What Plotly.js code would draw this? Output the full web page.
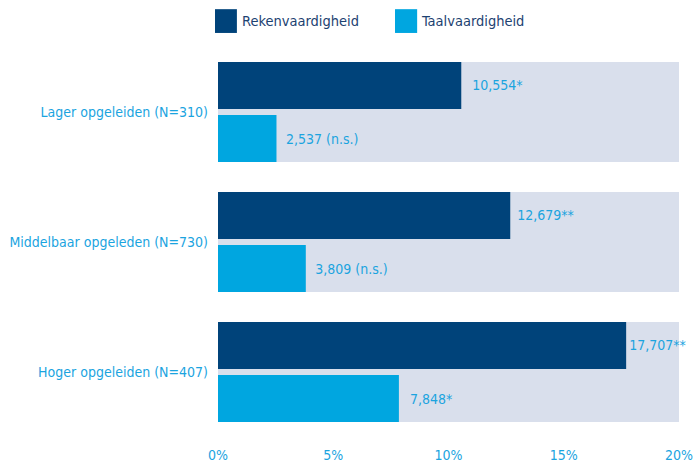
<!DOCTYPE html>
<html>
<head>
<meta charset="utf-8">
<script src="https://cdn.plot.ly/plotly-3.0.1.min.js"></script>
<style>html,body{margin:0;padding:0;background:#fff;}#chart{width:693px;height:464px;}</style>
</head>
<body>
<div id="chart"></div>
<script>
const categories = ["Lager opgeleiden (N=310)", "Middelbaar opgeleden (N=730)", "Hoger opgeleiden (N=407)"];
const rekenValues = [10.554, 12.679, 17.707];
const taalValues = [2.537, 3.809, 7.848];
const rekenLabels = ["10,554*", "12,679**", "17,707**"];
const taalLabels = ["2,537 (n.s.)", "3,809 (n.s.)", "7,848*"];
const bandValues = [20, 20, 20];
const xTickVals = [0, 5, 10, 15, 20];
const xTickText = ["0%", "5%", "10%", "15%", "20%"];
const seriesNames = ["Rekenvaardigheid", "Taalvaardigheid"];

// label spacing (style only)
const rekenPad = ['\u00a0\u00a0', '\u00a0', ''];
const taalPad = ['\u00a0\u2009', '\u00a0\u2009', '\u00a0\u00a0'];

const FONT = '"DejaVu Sans Condensed", "Liberation Sans Narrow", "Roboto", sans-serif';
const DARK = '#00437a';
const LIGHT = '#00a6e0';
const BAND = '#d9dfec';
const TXT = '#1ba4df';
const NAVY = '#1d4271';
const FS = 14;

const traces = [
  {type: 'bar', orientation: 'h', y: categories, x: bandValues, width: 0.77, offset: -0.385,
   marker: {color: BAND}, hoverinfo: 'skip', showlegend: false},
  {type: 'bar', orientation: 'h', name: seriesNames[0], y: categories, x: rekenValues, width: 0.362, offset: -0.385,
   marker: {color: DARK}, text: rekenLabels.map((t, i) => rekenPad[i] + t), textposition: 'outside', constraintext: 'none',
   cliponaxis: false, textfont: {family: FONT, size: FS, color: TXT}, hoverinfo: 'skip', showlegend: false},
  {type: 'bar', orientation: 'h', name: seriesNames[1], y: categories, x: taalValues, width: 0.362, offset: 0.023,
   marker: {color: LIGHT}, text: taalLabels.map((t, i) => taalPad[i] + t), textposition: 'outside', constraintext: 'none',
   cliponaxis: false, textfont: {family: FONT, size: FS, color: TXT}, hoverinfo: 'skip', showlegend: false}
];

const layout = {
  width: 693, height: 464,
  margin: {l: 218, r: 14, t: 47, b: 27},
  paper_bgcolor: '#ffffff', plot_bgcolor: '#ffffff',
  barmode: 'overlay',
  font: {family: FONT, size: FS, color: TXT},
  xaxis: {range: [0, 20], tickvals: xTickVals, ticktext: xTickText, showgrid: false, zeroline: false,
          showline: false, ticks: '', ticklabelstandoff: 8, ticklabeloverflow: 'allow',
          tickfont: {family: FONT, size: FS, color: TXT}},
  yaxis: {type: 'category', range: [2.5, -0.5], showgrid: false, zeroline: false, showline: false,
          ticks: '', ticklabelstandoff: 9, tickfont: {family: FONT, size: FS, color: TXT}},
  shapes: [
    {type: 'rect', xref: 'paper', yref: 'paper', x0: -0.0065, x1: 0.041, y0: 1.036, y1: 1.097, fillcolor: DARK, line: {width: 0}},
    {type: 'rect', xref: 'paper', yref: 'paper', x0: 0.384, x1: 0.432, y0: 1.036, y1: 1.097, fillcolor: LIGHT, line: {width: 0}}
  ],
  annotations: [
    {xref: 'paper', yref: 'paper', x: 0.047, y: 1.066, xanchor: 'left', yanchor: 'middle', showarrow: false,
     text: seriesNames[0], font: {family: FONT, size: 14.5, color: NAVY}},
    {xref: 'paper', yref: 'paper', x: 0.436, y: 1.066, xanchor: 'left', yanchor: 'middle', showarrow: false,
     text: seriesNames[1], font: {family: FONT, size: 14.5, color: NAVY}}
  ]
};

Plotly.newPlot('chart', traces, layout, {displayModeBar: false, staticPlot: true});
</script>
</body>
</html>
